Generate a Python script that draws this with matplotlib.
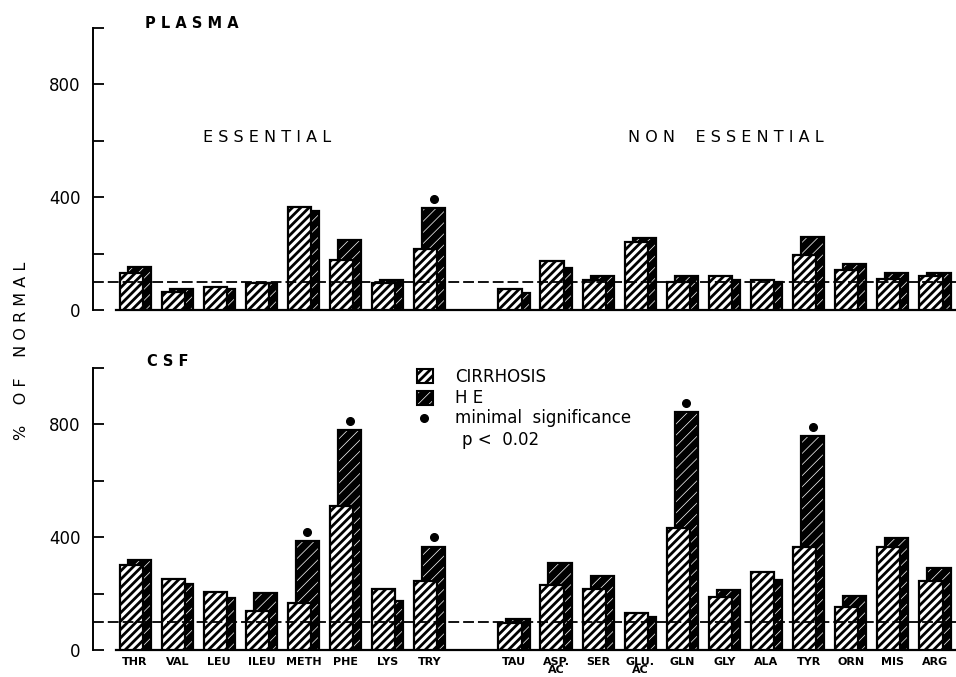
import matplotlib
matplotlib.use("Agg")
import matplotlib.pyplot as plt
from matplotlib.patches import Rectangle

plt.rcParams["font.family"] = ["DejaVu Sans"]

# amino acids, essential first then non essential
essential = ["THR", "VAL", "LEU", "ILEU", "METH", "PHE", "LYS", "TRY"]
non_essential = ["TAU", "ASP.\nAC", "SER", "GLU.\nAC", "GLN", "GLY", "ALA",
                 "TYR", "ORN", "MIS", "ARG"]

# % of normal
plasma_cirrhosis = [132, 63, 80, 95, 366, 179, 94, 215,
                    74, 172, 105, 240, 98, 121, 105, 194, 143, 110, 119]
plasma_he = [151, 73, 73, 95, 350, 250, 106, 360,
             60, 149, 119, 254, 122, 107, 101, 259, 163, 131, 131]
plasma_signif = ["TRY"]

csf_cirrhosis = [303, 251, 204, 139, 167, 509, 217, 244,
                 95, 229, 217, 132, 431, 188, 276, 367, 153, 364, 243]
csf_he = [320, 233, 186, 203, 388, 779, 175, 367,
          110, 309, 263, 118, 843, 212, 250, 758, 192, 396, 291]
csf_signif = ["METH", "PHE", "TRY", "GLN", "TYR"]

normal_level = 100

labels = essential + non_essential
# one empty slot between the two groups
xpos = list(range(len(essential))) + [len(essential) + 1 + i for i in range(len(non_essential))]

W, H = 956, 677
fig = plt.figure(figsize=(W / 100, H / 100), dpi=100)

BW = 0.55
OFF = 0.095
C_HATCH = "////"
HE_HATCH = "///"
C_HATCH_LW = 2.0
HE_HATCH_LW = 0.5


def set_hatch_lw(patches, lw):
    for p in patches:
        if hasattr(p, "set_hatch_linewidth"):
            p.set_hatch_linewidth(lw)


def panel(ax, cirr, he, signif, show_labels):
    with plt.rc_context({"hatch.linewidth": HE_HATCH_LW}):
        he_bars = ax.bar([x + OFF for x in xpos], he, width=BW, color="black",
                         edgecolor="white", hatch=HE_HATCH, linewidth=0, zorder=2)
    set_hatch_lw(he_bars, HE_HATCH_LW)
    ax.bar([x + OFF for x in xpos], he, width=BW, fill=False,
           edgecolor="black", linewidth=1.6, zorder=2.1)
    with plt.rc_context({"hatch.linewidth": C_HATCH_LW}):
        c_bars = ax.bar([x - OFF for x in xpos], cirr, width=BW, color="white",
                        edgecolor="black", hatch=C_HATCH, linewidth=1.6, zorder=3)
    set_hatch_lw(c_bars, C_HATCH_LW)

    for lab in signif:
        i = labels.index(lab)
        ax.plot(xpos[i] + OFF, he[i] + 32, "o", color="black", ms=5.5, zorder=4)

    ax.axhline(normal_level, color="black", lw=1.3, ls=(0, (6, 2.2)), zorder=5)

    ax.set_xlim(-1, 19.5)
    ax.set_ylim(0, 1000)
    ax.spines["top"].set_visible(False)
    ax.spines["right"].set_visible(False)
    ax.spines["left"].set_linewidth(1.4)
    ax.spines["bottom"].set_linewidth(1.6)
    ax.spines["bottom"].set_bounds(-0.45, 19.5)
    ax.set_yticks([0, 400, 800])
    ax.set_yticks([200, 600, 1000], minor=True)
    ax.tick_params(axis="y", which="both", direction="in", length=8, width=1.3)
    ax.tick_params(axis="y", which="major", labelsize=12, pad=9)
    ax.set_xticks(xpos)
    if show_labels:
        ax.set_xticklabels(labels, fontsize=8, fontweight="bold", linespacing=0.8)
        ax.tick_params(axis="x", length=0, pad=5)
    else:
        ax.set_xticklabels([])
        ax.tick_params(axis="x", length=0)


ax_top = fig.add_axes([93 / W, 1 - 310 / H, 1 - 93 / W, 282 / H])
ax_bot = fig.add_axes([93 / W, 1 - 650 / H, 1 - 93 / W, 282 / H])
panel(ax_top, plasma_cirrhosis, plasma_he, plasma_signif, False)
panel(ax_bot, csf_cirrhosis, csf_he, csf_signif, True)

fig.text(145 / W, 1 - 23 / H, "P L A S M A", fontsize=10.5, fontweight="bold", va="center")
fig.text(147 / W, 1 - 362 / H, "C S F", fontsize=10.5, fontweight="bold", va="center")
fig.text(203 / W, 1 - 138 / H, "E S S E N T I A L", fontsize=11.5, va="center")
fig.text(628 / W, 1 - 138 / H, "N O N    E S S E N T I A L", fontsize=11.5, va="center")
fig.text(22 / W, 1 - 351 / H, "%    O F    N O R M A L", fontsize=11.5, rotation=90,
         va="center", ha="center")

# legend
with plt.rc_context({"hatch.linewidth": C_HATCH_LW}):
    r1 = Rectangle((417 / W, 1 - 383 / H), 16 / W, 14 / H, transform=fig.transFigure,
                   facecolor="white", edgecolor="black", hatch=C_HATCH, lw=1.5)
    fig.patches.append(r1)
set_hatch_lw([r1], C_HATCH_LW)
with plt.rc_context({"hatch.linewidth": HE_HATCH_LW}):
    r2 = Rectangle((417 / W, 1 - 405 / H), 16 / W, 14 / H, transform=fig.transFigure,
                   facecolor="black", edgecolor="white", hatch=HE_HATCH, lw=0)
    fig.patches.append(r2)
set_hatch_lw([r2], HE_HATCH_LW)
fig.patches.append(Rectangle((417 / W, 1 - 405 / H), 16 / W, 14 / H, transform=fig.transFigure,
                             fill=False, edgecolor="black", lw=1.5))
fig.lines.append(plt.Line2D([424 / W], [1 - 418 / H], marker="o", color="black", ms=5.5,
                            transform=fig.transFigure))
fig.text(455 / W, 1 - 377 / H, "CIRRHOSIS", fontsize=12, va="center")
fig.text(455 / W, 1 - 398 / H, "H E", fontsize=12, va="center")
fig.text(455 / W, 1 - 418 / H, "minimal  significance", fontsize=12, va="center")
fig.text(462 / W, 1 - 440 / H, "p <  0.02", fontsize=12, va="center")

fig.savefig("out.png", dpi=100)
